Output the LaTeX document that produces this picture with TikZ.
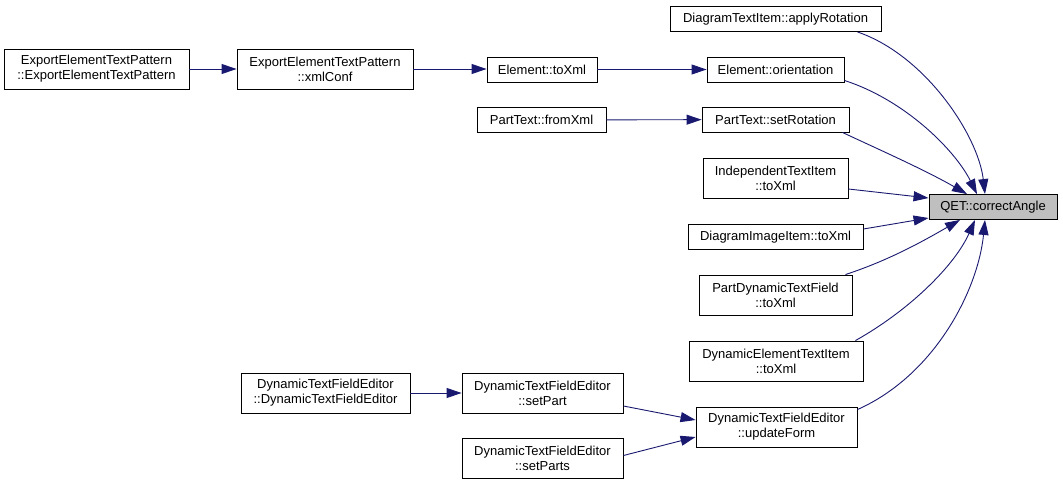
\documentclass[tikz,border=0pt]{standalone}
\usepackage{fontspec}
\setmainfont{Liberation Sans}
\usepackage{xcolor}
\usetikzlibrary{calc, arrows.meta}
\definecolor{edgeblue}{HTML}{191970}
\definecolor{hlgray}{HTML}{BFBFBF}
\tikzset{
    fnbox/.style={draw=black, line width=0.9pt, fill=white, inner sep=0pt, align=center,
        font=\fontsize{13}{15}\selectfont, minimum height=25pt},
    fnboxtwo/.style={fnbox, minimum height=40pt},
    callarrow/.style={-{Triangle[length=15pt, width=10pt]}, edgeblue, line width=0.9pt}
}
\begin{document}
\begin{tikzpicture}[x=1pt, y=-1pt]
    \useasboundingbox (0,0) rectangle (1063,485);
    \node[fnboxtwo, minimum width=185pt] (eetpCtor) at (96.5,69) {ExportElementTextPattern\\::ExportElementTextPattern};
    \node[fnboxtwo, minimum width=176pt] (eetpXml) at (325,69) {ExportElementTextPattern\\::xmlConf};
    \node[fnbox, minimum width=110pt] (elemXml) at (542,69.5) {Element::toXml};
    \node[fnbox, minimum width=129pt] (ptFromXml) at (541.5,120) {PartText::fromXml};
    \node[fnbox, minimum width=211pt] (applyRot) at (775.5,19) {DiagramTextItem::applyRotation};
    \node[fnbox, minimum width=137pt] (elemOrient) at (775.5,69.5) {Element::orientation};
    \node[fnbox, minimum width=147pt] (ptSetRot) at (775.5,119.5) {PartText::setRotation};
    \node[fnboxtwo, minimum width=145pt] (itiXml) at (775.5,178) {IndependentTextItem\\::toXml};
    \node[fnbox, minimum width=175pt] (diiXml) at (775.5,237) {DiagramImageItem::toXml};
    \node[fnboxtwo, minimum width=153pt] (pdtfXml) at (775.5,295) {PartDynamicTextField\\::toXml};
    \node[fnboxtwo, minimum width=174pt] (detiXml) at (776,361) {DynamicElementTextItem\\::toXml};
    \node[fnbox, minimum width=128pt, fill=hlgray] (qetAngle) at (993,207) {QET::correctAngle};
    \node[fnboxtwo, minimum width=169pt] (dtfeCtor) at (325.5,393) {DynamicTextFieldEditor\\::DynamicTextFieldEditor};
    \node[fnboxtwo, minimum width=161pt] (dtfeSetPart) at (542.5,393) {DynamicTextFieldEditor\\::setPart};
    \node[fnboxtwo, minimum width=161pt] (dtfeSetParts) at (542.5,458.5) {DynamicTextFieldEditor\\::setParts};
    \node[fnboxtwo, minimum width=161pt] (dtfeUpdate) at (776.5,427) {DynamicTextFieldEditor\\::updateForm};

    \draw[callarrow] (eetpCtor) -- (eetpXml);
    \draw[callarrow] (eetpXml.east) -- (eetpXml.east -| elemXml.west);
    \draw[callarrow] (elemXml) -- (elemOrient);
    \draw[callarrow] (ptFromXml) -- (ptSetRot);
    \draw[callarrow] (dtfeCtor) -- (dtfeSetPart);
    \draw[callarrow] ($(dtfeSetPart.east)+(0,13)$) -- ($(dtfeUpdate.west)+(0,-7)$);
    \draw[callarrow] ($(dtfeSetParts.east)+(0,-3)$) -- ($(dtfeUpdate.west)+(0,10)$);

    \draw[callarrow] ($(applyRot.south east)+(-24,0)$) .. controls (925,55) and (978,135) .. ($(qetAngle.north)+(-8,0)$);
    \draw[callarrow] ($(elemOrient.south east)+(0,-2)$) .. controls (905,100) and (955,150) .. ($(qetAngle.north)+(-16,0)$);
    \draw[callarrow] ($(ptSetRot.south east)+(-7,0)$) .. controls (880,150) and (925,170) .. ($(qetAngle.north)+(-26,0)$);
    \draw[callarrow] ($(itiXml.east)+(0,11)$) -- ($(qetAngle.west)+(0,-9)$);
    \draw[callarrow] ($(diiXml.east)+(0,-8)$) -- ($(qetAngle.west)+(0,11)$);
    \draw[callarrow] ($(pdtfXml.north east)+(-7,0)$) .. controls (890,260) and (925,240) .. ($(qetAngle.south)+(-33,0)$);
    \draw[callarrow] ($(detiXml.north east)+(-8,0)$) .. controls (910,310) and (955,265) .. ($(qetAngle.south)+(-18,0)$);
    \draw[callarrow] ($(dtfeUpdate.north east)+(0,3)$) .. controls (935,375) and (978,290) .. ($(qetAngle.south)+(-8,0)$);
\end{tikzpicture}
\end{document}
